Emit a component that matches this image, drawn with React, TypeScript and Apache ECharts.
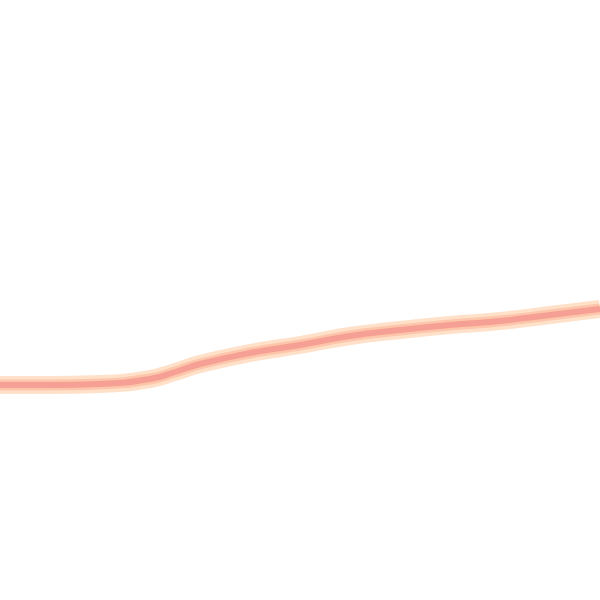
import React, { useEffect, useRef } from 'react';
import * as echarts from 'echarts';

// x positions and line height
const xPositions = [0, 50, 100, 150, 175, 200, 250, 300, 350, 400, 450, 500, 550, 600];
const lineValues = [215, 215, 216, 221, 228, 236, 247, 255, 264, 270, 275, 279, 285, 291];

const App: React.FC = () => {
  const chartRef = useRef<HTMLDivElement>(null);

  useEffect(() => {
    if (!chartRef.current) return;
    const chart = echarts.init(chartRef.current, undefined, { renderer: 'svg' });

    const points = lineValues.map((v, i) => [xPositions[i], v]);

    // same line drawn three times: pale glow, mid band, salmon core
    const layer = (width: number, color: string) => ({
      type: 'line' as const,
      data: points,
      smooth: true,
      showSymbol: false,
      silent: true,
      lineStyle: { width, color, cap: 'butt' as const },
    });

    chart.setOption({
      animation: false,
      grid: { left: 0, right: 0, top: 0, bottom: 0 },
      xAxis: { type: 'value', min: 0, max: 600, show: false },
      yAxis: { type: 'value', min: 0, max: 600, show: false },
      series: [layer(18, '#ffe1ca'), layer(11, '#fdc6aa'), layer(6, '#f59f95')],
    });

    return () => chart.dispose();
  }, []);

  return (
    <div
      ref={chartRef}
      style={{ position: 'absolute', left: 0, top: 0, width: '600px', height: '600px', background: '#fff' }}
    />
  );
};

export default App;
